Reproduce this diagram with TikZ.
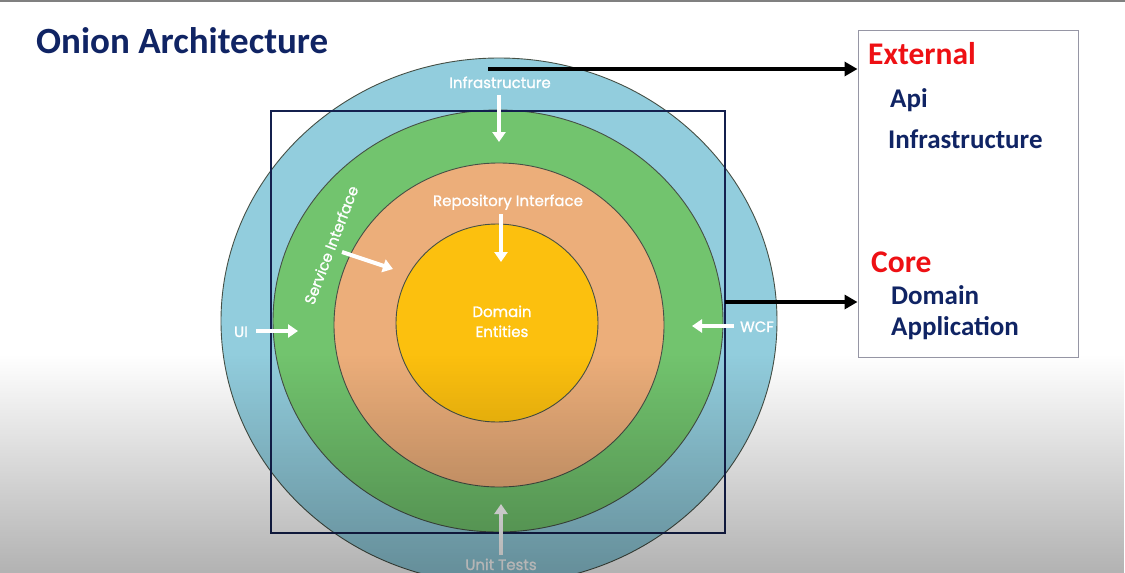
\documentclass[tikz,border=0pt]{standalone}
\usepackage{fontspec}
\setmainfont{Carlito}
\newfontfamily\ringfont[BoldFont=Poppins, BoldFeatures={FakeBold=1.2}]{Poppins}
\usetikzlibrary{arrows.meta,fadings}

\definecolor{ringblue}{RGB}{146,205,221}
\definecolor{ringgreen}{RGB}{114,196,110}
\definecolor{ringorange}{RGB}{236,174,122}
\definecolor{ringyellow}{RGB}{252,192,14}
\definecolor{textnavy}{RGB}{16,36,100}
\definecolor{framenavy}{RGB}{20,32,78}
\definecolor{headred}{RGB}{238,16,20}
\definecolor{ringedge}{RGB}{70,80,70}

\tikzfading[name=bottomshade, top color=transparent!100, bottom color=transparent!0]

\tikzset{
  ring/.style={draw=ringedge, line width=0.9pt},
  ringlabel/.style={text=white, font=\ringfont\bfseries\fontsize{15}{17}\selectfont, inner sep=0pt},
  flowarrow/.style={draw=white, line width=4pt, -{Triangle[width=13pt,length=10pt]}},
  linkarrow/.style={draw=black, line width=4pt, -{Triangle[width=14pt,length=13pt]}},
  headtext/.style={text=headred, font=\bfseries\fontsize{31.5}{34}\selectfont, anchor=base west, inner sep=0pt},
  itemtext/.style={text=textnavy, font=\bfseries\fontsize{27}{30}\selectfont, anchor=base west, inner sep=0pt}
}

\begin{document}
\begin{tikzpicture}[x=1pt,y=-1pt]
\useasboundingbox (0,0) rectangle (1125,573);
\fill[white] (0,0) rectangle (1125,573);

% concentric layers
\begin{scope}
  \clip (0,0) rectangle (1125,573);
  \draw[ring, fill=ringblue]   (499,321) ellipse [x radius=278, y radius=263];
  \draw[ring, fill=ringgreen]  (498,321) ellipse [x radius=225, y radius=211];
  \draw[ring, fill=ringorange] (499,325) ellipse [x radius=165, y radius=162];
  \draw[ring, fill=ringyellow] (497,323) ellipse [x radius=101, y radius=99];
\end{scope}

% framing rectangle around the inner layers
\draw[framenavy, line width=2pt] (271,111) rectangle (725,533);

% title
\node[text=textnavy, font=\bfseries\fontsize{37}{40}\selectfont, anchor=base west, inner sep=0pt] (title) at (36,53) {Onion Architecture};

% layer labels
\node[ringlabel, anchor=base] (infra) at (500,88) {Infrastructure};
\node[ringlabel, anchor=base] (repo) at (508,206) {Repository Interface};
\node[ringlabel, anchor=base] (dom) at (502,317) {Domain};
\node[ringlabel, anchor=base] (ent) at (502,337) {Entities};
\node[ringlabel, rotate=69] (svc) at (331,245) {Service Interface};
\node[ringlabel, anchor=base] (ui) at (241,337) {UI};
\node[ringlabel, anchor=base] (wcf) at (757,332) {WCF};
\node[ringlabel, anchor=base] (tests) at (501,570) {Unit Tests};

% dependency arrows pointing inwards
\coordinate (infraA) at (499,95);   \coordinate (infraB) at (499,142);
\coordinate (repoA) at (501,214);   \coordinate (repoB) at (501,262);
\coordinate (svcA) at (342,252);    \coordinate (svcB) at (393,269);
\coordinate (uiA) at (256,331);     \coordinate (uiB) at (298,331);
\coordinate (wcfA) at (734,326);    \coordinate (wcfB) at (692,326);
\coordinate (testA) at (501,555);   \coordinate (testB) at (501,504);
\draw[flowarrow] (infraA) -- (infraB);
\draw[flowarrow] (repoA) -- (repoB);
\draw[flowarrow] (svcA) -- (svcB);
\draw[flowarrow] (uiA) -- (uiB);
\draw[flowarrow] (wcfA) -- (wcfB);
\draw[flowarrow] (testA) -- (testB);

% legend box
\node[draw={rgb,255:red,150;green,150;blue,165}, line width=1pt, minimum width=220pt, minimum height=327pt, inner sep=0pt] (legend) at (968,193.5) {};
\node[headtext] (ext) at (868,64) {External};
\node[itemtext] (api) at (890,107) {Api};
\node[itemtext] (infra2) at (888,148) {Infrastructure};
\node[headtext] (core) at (871,272) {Core};
\node[itemtext] (domain) at (891,304) {Domain};
\node[itemtext] (app) at (891,335) {Application};

% links from the layers to the legend
\coordinate (extA) at (488,69);
\coordinate (coreA) at (725,302);
\draw[linkarrow] (extA) -- (extA -| legend.west);
\draw[linkarrow] (coreA) -- (coreA -| legend.west);

% soft shading towards the bottom edge
\fill[black, path fading=bottomshade, fill opacity=0.3] (0,355) rectangle (1125,573);
\draw[gray, line width=1.5pt] (0,0.75) -- (1125,0.75);
\end{tikzpicture}
\end{document}
